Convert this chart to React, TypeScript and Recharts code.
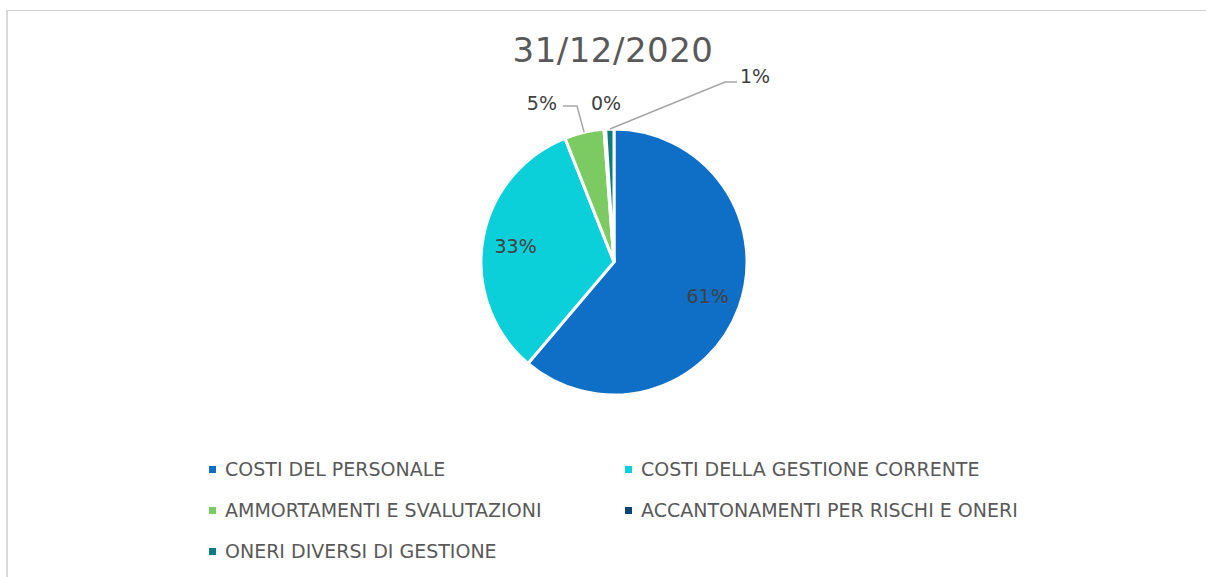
import React from "react";
import { PieChart, Pie, Cell, Legend } from "recharts";

const title = "31/12/2020";
const categories = [
  "COSTI DEL PERSONALE",
  "COSTI DELLA GESTIONE CORRENTE",
  "AMMORTAMENTI E SVALUTAZIONI",
  "ACCANTONAMENTI PER RISCHI E ONERI",
  "ONERI DIVERSI DI GESTIONE",
];
const values = [61.2, 32.8, 4.8, 0.2, 1.0];
const colors = ["#0F6FC6", "#0BD0D9", "#7CCA62", "#0A4478", "#0B7C80"];

const data = categories.map((name, i) => ({ name, value: values[i] }));

const FONT = "'DejaVu Sans', sans-serif";
const CX = 614;
const CY = 262;
const R = 133;
const RAD = Math.PI / 180;

// placement of outside labels (relative to pie centre)
const outside: Record<number, { tx: number; ty: number; anchor: string; line?: number[][] }> = {
  2: { tx: -57, ty: -159, anchor: "end", line: [[-51, -156], [-37, -156]] },
  3: { tx: -8, ty: -159, anchor: "middle" },
  4: { tx: 126, ty: -186, anchor: "start", line: [[123, -180], [111, -180]] },
};

const renderLabel = (props: any) => {
  const { cx, cy, midAngle, outerRadius, index, percent } = props;
  const txt = Math.round(percent * 100) + "%";
  const cos = Math.cos(-midAngle * RAD);
  const sin = Math.sin(-midAngle * RAD);
  const o = outside[index];
  if (!o) {
    const r = outerRadius * 0.75;
    return (
      <text
        x={cx + r * cos}
        y={cy + r * sin}
        textAnchor="middle"
        dominantBaseline="central"
        fontFamily={FONT}
        fontSize={19}
        fill="#404040"
      >
        {txt}
      </text>
    );
  }
  const edge = [cx + outerRadius * cos, cy + outerRadius * sin];
  let path = null;
  if (o.line) {
    const pts = [...o.line.map((p) => [cx + p[0], cy + p[1]]), edge];
    path = (
      <polyline
        points={pts.map((p) => p.join(",")).join(" ")}
        fill="none"
        stroke="#A6A6A6"
        strokeWidth={1.5}
      />
    );
  }
  return (
    <g>
      {path}
      <text
        x={cx + o.tx}
        y={cy + o.ty}
        textAnchor={o.anchor as any}
        dominantBaseline="central"
        fontFamily={FONT}
        fontSize={19}
        fill="#404040"
      >
        {txt}
      </text>
    </g>
  );
};

const renderLegend = (props: any) => {
  const payload = [...(props.payload || [])].sort(
    (a: any, b: any) => categories.indexOf(a.value) - categories.indexOf(b.value)
  );
  return (
    <div style={{ position: "relative", width: 1206, height: 577 }}>
      {payload.map((entry: any, i: number) => {
        const col = i % 2;
        const row = Math.floor(i / 2);
        const ci = categories.indexOf(entry.value);
        return (
          <div
            key={i}
            style={{
              position: "absolute",
              left: 209 + col * 416,
              top: 469 + row * 41 - 12,
              height: 24,
              display: "flex",
              alignItems: "center",
              whiteSpace: "nowrap",
            }}
          >
            <span
              style={{
                display: "inline-block",
                width: 7,
                height: 7,
                background: colors[ci],
                marginRight: 9,
              }}
            />
            <span style={{ fontFamily: FONT, fontSize: 19, color: "#595959", lineHeight: "24px" }}>
              {entry.value}
            </span>
          </div>
        );
      })}
    </div>
  );
};

export default function App() {
  return (
    <div
      style={{
        position: "fixed",
        left: 0,
        top: 0,
        width: 1206,
        height: 577,
        overflow: "hidden",
        background: "#fff",
      }}
    >
      <div
        style={{
          position: "absolute",
          left: 6,
          top: 10,
          width: 1300,
          height: 700,
          borderTop: "1px solid #D0D0D0",
          borderLeft: "2px solid #D9D9D9",
        }}
      />
      <div
        style={{
          position: "absolute",
          left: 0,
          width: 1226,
          top: 33,
          textAlign: "center",
          fontFamily: FONT,
          fontSize: 34,
          lineHeight: "34px",
          letterSpacing: 0.5,
          color: "#595959",
        }}
      >
        {title}
      </div>
      <div style={{ position: "absolute", left: 0, top: 0 }}>
        <PieChart width={1206} height={577} margin={{ top: 0, right: 0, bottom: 0, left: 0 }}>
          <Pie
            data={data}
            dataKey="value"
            nameKey="name"
            cx={CX}
            cy={CY}
            outerRadius={R}
            startAngle={90}
            endAngle={-270}
            stroke="#FFFFFF"
            strokeWidth={3}
            label={renderLabel}
            labelLine={false}
            isAnimationActive={false}
          >
            {data.map((d, i) => (
              <Cell key={d.name} fill={colors[i]} />
            ))}
          </Pie>
          <Legend
            content={renderLegend}
            wrapperStyle={{ position: "absolute", left: 0, top: 0, width: 1206, height: 577 }}
          />
        </PieChart>
      </div>
    </div>
  );
}
